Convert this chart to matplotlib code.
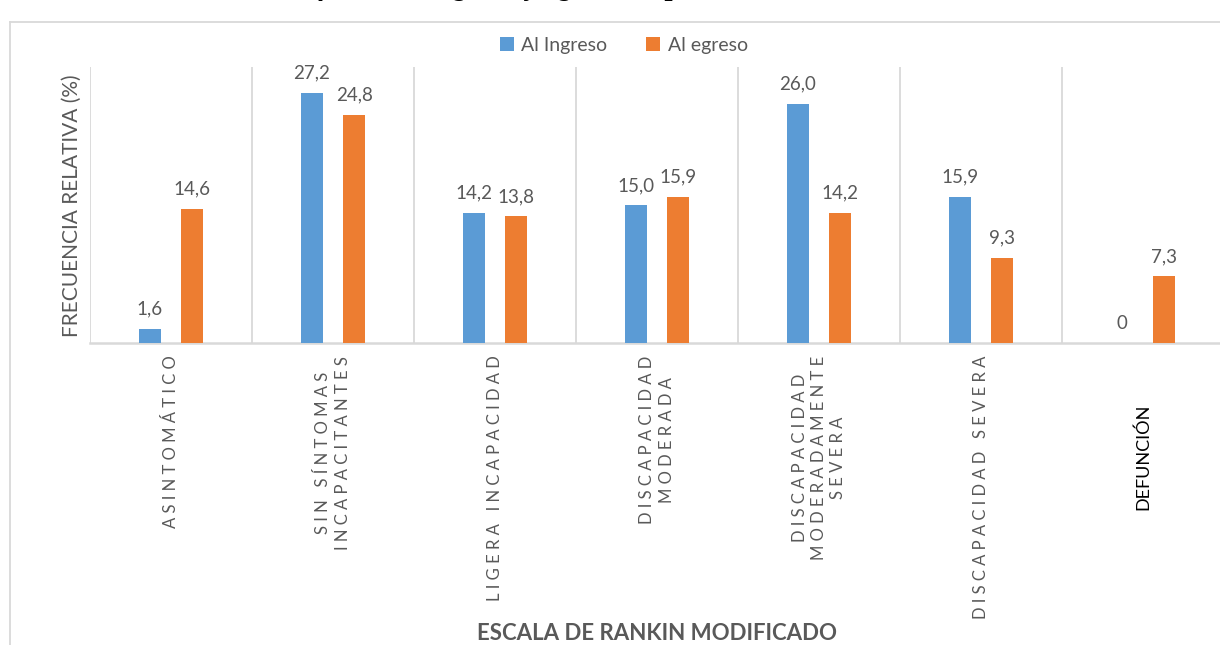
import matplotlib
matplotlib.use("Agg")
import matplotlib.pyplot as plt
import numpy as np
from matplotlib.lines import Line2D

# === Data ===
categorias = ["ASINTOMÁTICO", "SIN SÍNTOMAS\nINCAPACITANTES", "LIGERA INCAPACIDAD",
              "DISCAPACIDAD\nMODERADA", "DISCAPACIDAD\nMODERADAMENTE\nSEVERA",
              "DISCAPACIDAD SEVERA", "DEFUNCIÓN"]
al_ingreso = [1.6, 27.2, 14.2, 15.0, 26.0, 15.9, 0]
al_egreso = [14.6, 24.8, 13.8, 15.9, 14.2, 9.3, 7.3]
series = ["Al Ingreso", "Al egreso"]

plt.rcParams['font.family'] = ['Lato', 'DejaVu Sans']
gris = '#595959'
linea = '#d9d9d9'
azul = '#5B9BD5'
naranja = '#ED7D31'

W, H = 1220, 645
fig = plt.figure(figsize=(W / 100, H / 100), dpi=100)

# plot area in pixel coords (right edge runs past the image like the source)
x0, x1, yb, yt = 90, 1224, 343.3, 67
ax = fig.add_axes([x0 / W, 1 - yb / H, (x1 - x0) / W, (yb - yt) / H])

x = np.arange(len(categorias))
ancho = 0.136
off = 0.13
b1 = ax.bar(x - off, al_ingreso, ancho, color=azul, label=series[0], zorder=3)
b2 = ax.bar(x + off, al_egreso, ancho, color=naranja, label=series[1], zorder=3)

ax.set_xlim(-0.5, len(categorias) - 0.5)
ax.set_ylim(0, 30)

# vertical separators between categories
for k in range(len(categorias) + 1):
    ax.axvline(k - 0.5, color=linea, lw=1.3, zorder=1)

for s in ['top', 'right', 'left']:
    ax.spines[s].set_visible(False)
ax.spines['bottom'].set_color(linea)
ax.spines['bottom'].set_linewidth(1.8)
ax.set_yticks([])
ax.set_xticks([])

def fmt(v):
    return "0" if v == 0 else f"{v:.1f}".replace('.', ',')

for bars, vals in [(b1, al_ingreso), (b2, al_egreso)]:
    for rect, v in zip(bars, vals):
        ax.annotate(fmt(v), (rect.get_x() + rect.get_width() / 2, v),
                    xytext=(0, 8), textcoords='offset points',
                    ha='center', va='bottom', fontsize=13.5, color=gris)

# category labels (spaced letters, rotated)
for i, c in enumerate(categorias):
    if c == "DEFUNCIÓN":
        ax.text(i, -0.22, c, rotation=90, ha='center', va='top',
                fontsize=13, color='black', transform=ax.get_xaxis_transform())
    else:
        txt = "\n".join("   ".join(" ".join(w) for w in ln.split(" "))
                        for ln in c.split("\n"))
        ax.text(i, -0.045, txt, rotation=90, ha='center', va='top',
                multialignment='center', fontsize=12, color=gris,
                linespacing=1.25, transform=ax.get_xaxis_transform())

fig.text(72 / W, 1 - 206 / H, "FRECUENCIA RELATIVA (%)", rotation=90,
         ha='center', va='center', fontsize=15, color=gris)
fig.text(657 / W, 1 - 633 / H, "ESCALA DE RANKIN MODIFICADO",
         ha='center', va='center', fontsize=16, fontweight='bold', color=gris)

fig.legend(handles=[b1, b2], loc='center', bbox_to_anchor=(624 / W, 1 - 45 / H),
           ncol=2, frameon=False, fontsize=14, labelcolor=gris,
           handlelength=0.7, handleheight=0.7, handletextpad=0.4, columnspacing=2.0)

# chart area border
fig.add_artist(Line2D([10 / W, 10 / W], [0, 1 - 22 / H], color=linea, lw=1.3))
fig.add_artist(Line2D([10 / W, 1], [1 - 22 / H, 1 - 22 / H], color=linea, lw=1.3))

# caption cut off at the top of the source image
fig.text(162 / W, 1 + 5 / H, "Rankin modificado al ingreso y egreso de pacientes",
         family='Liberation Serif', style='italic', fontweight='bold',
         fontsize=21, ha='left', va='baseline', color='black')

fig.savefig("out.png", dpi=100)
